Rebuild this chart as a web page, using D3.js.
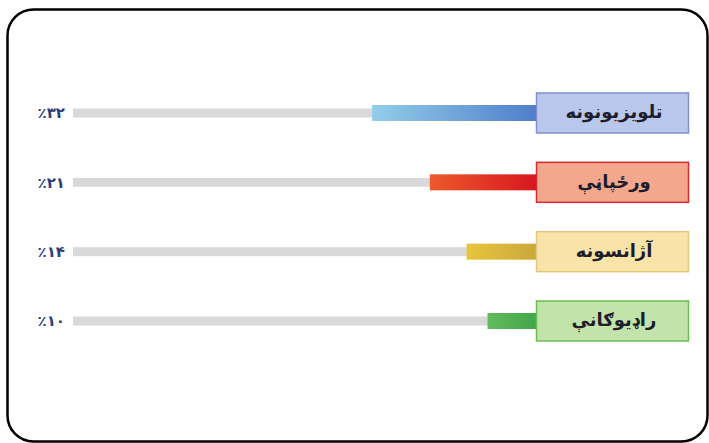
<!DOCTYPE html>
<html>
<head>
<meta charset="utf-8">
<script src="https://cdn.jsdelivr.net/npm/d3@7"></script>
<style>
  html, body { margin: 0; padding: 0; background: #fff; }
  svg { display: block; }
</style>
</head>
<body>
<div id="chart"></div>
<script>
// Chart data
const categories = ["تلویزیونونه", "ورځپاڼې", "آژانسونه", "راډیوګانې"];
const values = [32, 21, 14, 10];
const valueLabels = ["٪۳۲", "٪۲۱", "٪۱۴", "٪۱۰"];
const barColors = [["#93cdea", "#4f7cc9"], ["#ec5a2b", "#d8141f"], ["#e9c43c", "#c8a83c"], ["#62bb5e", "#3ea548"]];
const boxFills = ["#b9c7ec", "#f3a78d", "#f8e3a9", "#c2e4aa"];
const boxStrokes = ["#7f90d0", "#d62a31", "#e3c77f", "#6bbd58"];

const width = 709, height = 443;

const svg = d3.select("#chart")
  .append("svg")
  .attr("width", width)
  .attr("height", height);

// Frame
svg.append("rect")
  .attr("x", 7.5).attr("y", 9.5)
  .attr("width", 700).attr("height", 432)
  .attr("rx", 26).attr("ry", 26)
  .attr("fill", "#fff")
  .attr("stroke", "#000")
  .attr("stroke-width", 2.5);

// Scales: bars grow leftwards from the label boxes
const trackLeft = 73, trackRight = 540;
const xScale = d3.scaleLinear().domain([0, 89]).range([trackRight, trackLeft]);
const yScale = d3.scalePoint().domain(categories).range([113, 321]);

const rows = categories.map((c, i) => ({ cat: c, value: values[i], label: valueLabels[i], i }));

// Gradients
const defs = svg.append("defs");
rows.forEach(d => {
  const g = defs.append("linearGradient")
    .attr("id", "grad" + d.i)
    .attr("x1", "0%").attr("x2", "100%");
  g.append("stop").attr("offset", "0%").attr("stop-color", barColors[d.i][0]);
  g.append("stop").attr("offset", "100%").attr("stop-color", barColors[d.i][1]);
});

// Gray tracks
svg.selectAll(".track")
  .data(rows)
  .join("rect")
  .attr("class", "track")
  .attr("x", xScale(xScale.domain()[1]))
  .attr("y", d => yScale(d.cat) - 4.5)
  .attr("width", xScale(0) - xScale(xScale.domain()[1]))
  .attr("height", 9)
  .attr("fill", "#d9d9d9");

// Value bars
svg.selectAll(".bar")
  .data(rows)
  .join("rect")
  .attr("class", "bar")
  .attr("x", d => xScale(d.value))
  .attr("y", d => yScale(d.cat) - 8)
  .attr("width", d => xScale(0) - xScale(d.value))
  .attr("height", 16)
  .attr("fill", d => `url(#grad${d.i})`);

// Label boxes
svg.selectAll(".box")
  .data(rows)
  .join("rect")
  .attr("class", "box")
  .attr("x", 536.5)
  .attr("y", d => yScale(d.cat) - 20)
  .attr("width", 152)
  .attr("height", 40)
  .attr("fill", d => boxFills[d.i])
  .attr("stroke", d => boxStrokes[d.i])
  .attr("stroke-width", 1.5);

svg.selectAll(".cat-label")
  .data(rows)
  .join("text")
  .attr("class", "cat-label")
  .attr("x", 614)
  .attr("y", d => yScale(d.cat))
  .attr("dy", "0.3em")
  .attr("text-anchor", "middle")
  .attr("direction", "rtl")
  .attr("font-family", "DejaVu Sans, sans-serif")
  .attr("font-size", "18px")
  .attr("font-weight", "bold")
  .attr("fill", "#1d1d2b")
  .text(d => d.cat);

// Percent labels
svg.selectAll(".pct")
  .data(rows)
  .join("text")
  .attr("class", "pct")
  .attr("x", 65)
  .attr("y", d => yScale(d.cat))
  .attr("dy", "0.35em")
  .attr("text-anchor", "end")
  .attr("direction", "ltr")
  .attr("font-family", "DejaVu Sans, sans-serif")
  .attr("font-size", "15px")
  .attr("font-weight", "bold")
  .attr("letter-spacing", "1px")
  .attr("fill", "#2e3c7c")
  .text(d => d.label);
</script>
</body>
</html>
